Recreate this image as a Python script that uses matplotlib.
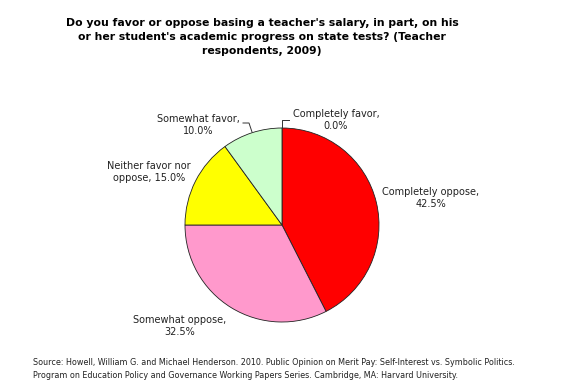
import matplotlib.pyplot as plt

# slice data, clockwise from the top
labels = ['Completely favor', 'Completely oppose', 'Somewhat oppose',
          'Neither favor nor\noppose', 'Somewhat favor']
values = [0.0, 42.5, 32.5, 15.0, 10.0]
colors = ['#FFFFFF', '#FF0000', '#FF99CC', '#FFFF00', '#CCFFCC']

title = ("Do you favor or oppose basing a teacher's salary, in part, on his\n"
         "or her student's academic progress on state tests? (Teacher\n"
         "respondents, 2009)")
source = ("Source: Howell, William G. and Michael Henderson. 2010. Public Opinion on Merit Pay: "
          "Self-Interest vs. Symbolic Politics.\n"
          "Program on Education Policy and Governance Working Papers Series. "
          "Cambridge, MA: Harvard University.")

W, H = 565, 386
fig = plt.figure(figsize=(W / 100, H / 100), dpi=100)
ax = fig.add_axes([0, 0, 1, 1])

cx, cy, r = 282, H - 225, 97
ax.pie(values, colors=colors, startangle=90, counterclock=False,
       center=(cx, cy), radius=r,
       wedgeprops=dict(edgecolor='#222222', linewidth=0.6))
ax.set_xlim(0, W)
ax.set_ylim(0, H)
ax.set_aspect('auto')
ax.axis('off')

lab = [f'{l}, {v:.1f}%' if '\n' in l else f'{l},\n{v:.1f}%' for l, v in zip(labels, values)]
fs = 7
# label positions (pixel coords, y from top)
pos = [(336, 120), (431, 198), (180, 326), (149, 172), (198, 125)]
for t, (x, y) in zip(lab, pos):
    ax.text(x, H - y, t, ha='center', va='center', fontsize=fs,
            color='#222222', linespacing=1.35)

# leader lines for the two small slices
ax.plot([cx, cx, 289], [H - 128, H - 120, H - 120], color='#333333', lw=0.7)
ax.plot([252, 249, 243], [H - 132, H - 123, H - 123], color='#333333', lw=0.7)

fig.text(262 / W, 1 - 37 / H, title, ha='center', va='center', fontsize=7.8,
         fontweight='bold', linespacing=1.45)
fig.text(33 / W, 1 - 369 / H, source, ha='left', va='center', fontsize=5.75,
         color='#222222', linespacing=1.7)

fig.savefig('out.png', dpi=100)
